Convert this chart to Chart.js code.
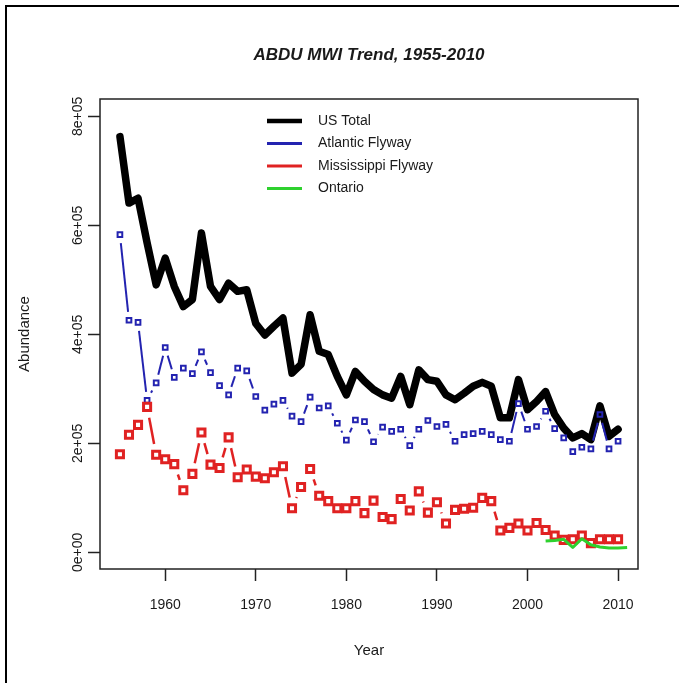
<!DOCTYPE html>
<html>
<head>
<meta charset="utf-8">
<script src="https://cdn.jsdelivr.net/npm/chart.js@4/dist/chart.umd.min.js"></script>
<style>
  html, body { margin: 0; padding: 0; background: #fff; }
  #wrap { position: relative; width: 679px; height: 683px; }
  canvas { display: block; }
</style>
</head>
<body>
<div id="wrap"><canvas id="c" width="679" height="683"></canvas></div>
<script>
// Survey years and mid-winter index counts
const years = [1955, 1956, 1957, 1958, 1959, 1960, 1961, 1962, 1963, 1964,
  1965, 1966, 1967, 1968, 1969, 1970, 1971, 1972, 1973, 1974,
  1975, 1976, 1977, 1978, 1979, 1980, 1981, 1982, 1983, 1984,
  1985, 1986, 1987, 1988, 1989, 1990, 1991, 1992, 1993, 1994,
  1995, 1996, 1997, 1998, 1999, 2000, 2001, 2002, 2003, 2004,
  2005, 2006, 2007, 2008, 2009, 2010];

const usTotal = [763000, 641000, 650000, 568000, 491000, 540000, 488000, 451000, 464000, 586000,
  488000, 464000, 494000, 479000, 482000, 420000, 399000, 415000, 430000, 329000,
  345000, 436000, 369000, 363000, 323000, 289000, 332000, 314000, 299000, 289000,
  283000, 323000, 271000, 335000, 317000, 314000, 289000, 280000, 292000, 305000,
  312000, 305000, 247000, 247000, 317000, 262000, 277000, 295000, 253000, 228000,
  210000, 218000, 207000, 269000, 213000, 226000];

const atlantic = [583000, 426000, 422000, 279000, 311000, 376000, 321000, 338000, 328000, 368000,
  330000, 306000, 289000, 338000, 333000, 286000, 261000, 272000, 279000, 250000,
  240000, 285000, 265000, 269000, 237000, 206000, 243000, 240000, 203000, 230000,
  222000, 226000, 196000, 226000, 242000, 231000, 235000, 204000, 216000, 218000,
  222000, 216000, 207000, 204000, 273000, 226000, 231000, 259000, 227000, 210000,
  185000, 193000, 190000, 253000, 190000, 204000];

const mississippi = [180000, 216000, 234000, 267000, 179000, 171000, 162000, 114000, 144000, 220000,
  161000, 155000, 211000, 138000, 152000, 139000, 136000, 147000, 158000, 81000,
  120000, 153000, 104000, 94000, 81000, 81000, 94000, 72000, 95000, 65000,
  61000, 98000, 77000, 112000, 73000, 92000, 53000, 78000, 80000, 82000,
  100000, 94000, 40000, 45000, 53000, 40000, 54000, 41000, 31000, 23000,
  24000, 31000, 17000, 24000, 24000, 24000];

const ontarioYears = [2002, 2003, 2004, 2005, 2006, 2007, 2008, 2009, 2010, 2011];
const ontario = [21000, 22000, 24000, 9000, 25000, 14000, 10000, 8000, 8000, 9000];

const seriesNames = ['US Total', 'Atlantic Flyway', 'Mississippi Flyway', 'Ontario'];

const xTicks = [1960, 1970, 1980, 1990, 2000, 2010];
const yTicks = [0, 200000, 400000, 600000, 800000];
const yTickLabels = ['0e+00', '2e+05', '4e+05', '6e+05', '8e+05'];

const FONT = '"Liberation Sans", Arial, Helvetica, sans-serif';
const INK = '#1a1a1a';
const COLORS = { total: '#000000', atlantic: '#2323b0', miss: '#e02222', ontario: '#2ed12e' };

const pairs = (xs, ys) => xs.map((x, i) => ({ x, y: ys[i] }));

// Lines with gaps around each symbol (points-and-lines style)
const gappedLines = {
  id: 'gappedLines',
  beforeDatasetDraw(chart, args) {
    const ds = chart.data.datasets[args.index];
    if (!ds.gap) return;
    const pts = args.meta.data;
    const ctx = chart.ctx;
    ctx.save();
    ctx.strokeStyle = ds.borderColor;
    ctx.lineWidth = ds.segWidth;
    ctx.lineCap = 'butt';
    for (let i = 0; i < pts.length - 1; i++) {
      const a = pts[i], b = pts[i + 1];
      const dx = b.x - a.x, dy = b.y - a.y;
      const d = Math.hypot(dx, dy);
      if (d <= 2 * ds.gap) continue;
      const ux = dx / d, uy = dy / d;
      ctx.beginPath();
      ctx.moveTo(a.x + ux * ds.gap, a.y + uy * ds.gap);
      ctx.lineTo(b.x - ux * ds.gap, b.y - uy * ds.gap);
      ctx.stroke();
    }
    ctx.restore();
  }
};

// Frame, box, titles, tick labels and legend
const decorations = {
  id: 'decorations',
  afterDraw(chart) {
    const ctx = chart.ctx;
    const area = chart.chartArea;
    const xs = chart.scales.x, ys = chart.scales.y;
    ctx.save();

    // outer frame (top and left edges)
    ctx.strokeStyle = '#000';
    ctx.lineWidth = 2;
    ctx.beginPath();
    ctx.moveTo(6, 683);
    ctx.lineTo(6, 6);
    ctx.lineTo(679, 6);
    ctx.stroke();

    // plot box
    ctx.strokeStyle = '#222';
    ctx.lineWidth = 1.5;
    ctx.strokeRect(area.left, area.top, area.right - area.left, area.bottom - area.top);

    ctx.fillStyle = INK;

    // title
    ctx.font = 'italic bold 17px ' + FONT;
    ctx.textAlign = 'center';
    ctx.textBaseline = 'middle';
    ctx.fillText('ABDU MWI Trend, 1955-2010', (area.left + area.right) / 2, 55);

    // x tick labels
    ctx.font = '14px ' + FONT;
    xTicks.forEach(v => ctx.fillText(String(v), xs.getPixelForValue(v), 605));

    // y tick labels (rotated)
    yTicks.forEach((v, i) => {
      ctx.save();
      ctx.translate(78, ys.getPixelForValue(v));
      ctx.rotate(-Math.PI / 2);
      ctx.fillText(yTickLabels[i], 0, 0);
      ctx.restore();
    });

    // axis titles
    ctx.font = '15px ' + FONT;
    ctx.fillText('Year', (area.left + area.right) / 2, 651);
    ctx.save();
    ctx.translate(25, (area.top + area.bottom) / 2);
    ctx.rotate(-Math.PI / 2);
    ctx.fillText('Abundance', 0, 0);
    ctx.restore();

    // legend
    const legendColors = [COLORS.total, COLORS.atlantic, COLORS.miss, COLORS.ontario];
    const legendWidths = [4.5, 3, 3, 3];
    ctx.font = '14px ' + FONT;
    ctx.textAlign = 'left';
    seriesNames.forEach((name, i) => {
      const y = 121 + i * 22.5;
      ctx.strokeStyle = legendColors[i];
      ctx.lineWidth = legendWidths[i];
      ctx.beginPath();
      ctx.moveTo(267, y);
      ctx.lineTo(302, y);
      ctx.stroke();
      ctx.fillStyle = INK;
      ctx.fillText(name, 318, y);
    });

    ctx.restore();
  }
};

new Chart(document.getElementById('c'), {
  type: 'scatter',
  data: {
    datasets: [
      {
        label: seriesNames[0],
        data: pairs(years, usTotal),
        showLine: true,
        borderColor: COLORS.total,
        borderWidth: 7.5,
        borderJoinStyle: 'round',
        borderCapStyle: 'round',
        pointRadius: 0,
        tension: 0,
        order: 3
      },
      {
        label: seriesNames[1],
        data: pairs(years, atlantic),
        showLine: false,
        borderColor: COLORS.atlantic,
        backgroundColor: 'rgba(0,0,0,0)',
        pointStyle: 'rect',
        pointRadius: 3.3,
        pointBorderWidth: 2,
        pointBorderColor: COLORS.atlantic,
        pointBackgroundColor: 'rgba(0,0,0,0)',
        gap: 8.5,
        segWidth: 2,
        order: 2
      },
      {
        label: seriesNames[2],
        data: pairs(years, mississippi),
        showLine: false,
        borderColor: COLORS.miss,
        backgroundColor: 'rgba(0,0,0,0)',
        pointStyle: 'rect',
        pointRadius: 5,
        pointBorderWidth: 3,
        pointBorderColor: COLORS.miss,
        pointBackgroundColor: 'rgba(0,0,0,0)',
        gap: 11,
        segWidth: 2.5,
        order: 1
      },
      {
        label: seriesNames[3],
        data: pairs(ontarioYears, ontario),
        showLine: true,
        borderColor: COLORS.ontario,
        borderWidth: 3,
        borderJoinStyle: 'round',
        pointRadius: 0,
        tension: 0,
        order: 0
      }
    ]
  },
  options: {
    responsive: false,
    animation: false,
    events: [],
    layout: { padding: { top: 99, right: 41, bottom: 0, left: 0 } },
    plugins: { legend: { display: false }, tooltip: { enabled: false }, title: { display: false } },
    scales: {
      x: {
        type: 'linear',
        min: 1952.8,
        max: 2012.2,
        afterBuildTicks: s => { s.ticks = xTicks.map(v => ({ value: v })); },
        afterFit: s => { s.height = 114; },
        ticks: { display: false },
        border: { display: false },
        grid: { display: true, drawOnChartArea: false, drawTicks: true, tickLength: 12, tickColor: '#222', tickWidth: 1.5 }
      },
      y: {
        type: 'linear',
        min: -30500,
        max: 832000,
        afterBuildTicks: s => { s.ticks = yTicks.map(v => ({ value: v })); },
        afterFit: s => { s.width = 100; },
        ticks: { display: false },
        border: { display: false },
        grid: { display: true, drawOnChartArea: false, drawTicks: true, tickLength: 12, tickColor: '#222', tickWidth: 1.5 }
      }
    }
  },
  plugins: [gappedLines, decorations]
});
</script>
</body>
</html>
